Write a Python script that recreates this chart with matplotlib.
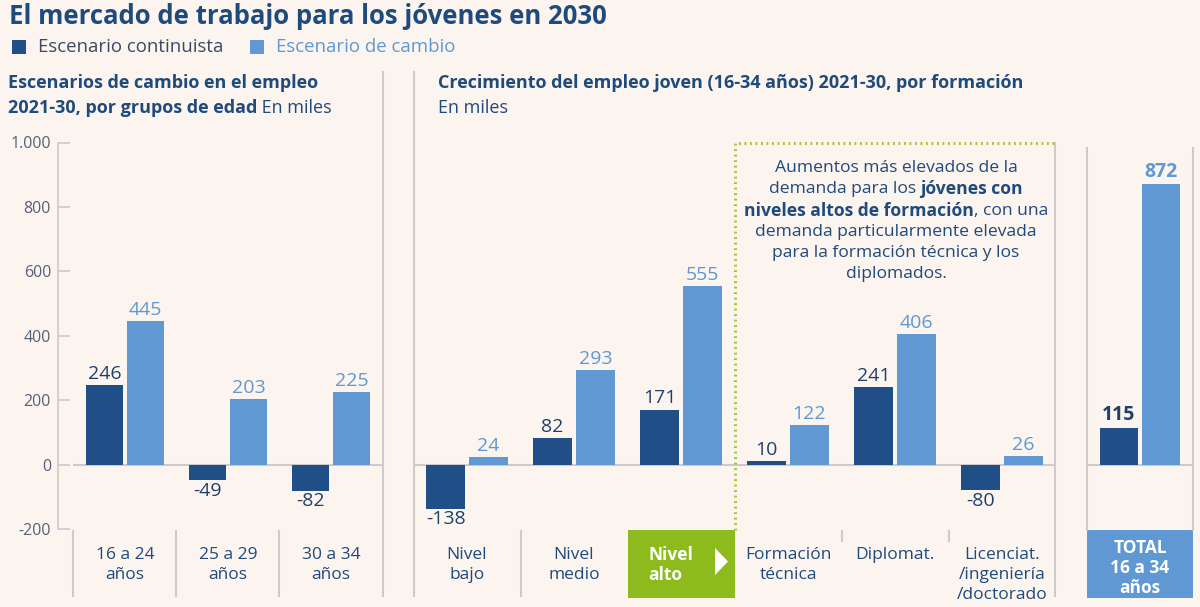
import numpy as np
import matplotlib.pyplot as plt
from matplotlib.lines import Line2D
from matplotlib.patches import Rectangle, Polygon
from matplotlib.transforms import blended_transform_factory

plt.rcParams['font.family'] = ['Open Sans', 'DejaVu Sans']

# --- data (miles de empleos) ---
age_groups = ['16 a 24\naños', '25 a 29\naños', '30 a 34\naños']
age_cont = [246, -49, -82]
age_cambio = [445, 203, 225]

edu_groups = ['Nivel\nbajo', 'Nivel\nmedio', 'Nivel\nalto', 'Formación\ntécnica',
              'Diplomat.', 'Licenciat.\n/ingeniería\n/doctorado']
edu_cont = [-138, 82, 171, 10, 241, -80]
edu_cambio = [24, 293, 555, 122, 406, 26]

total_label = 'TOTAL\n16 a 34\naños'
total_cont = [115]
total_cambio = [872]

y_ticks = [-200, 0, 200, 400, 600, 800, 1000]

# --- style ---
W, H = 1200, 607
BG = '#fcf5ef'
DARK = '#1f4f86'
LIGHT = '#5f98d3'
NAVY = '#1f4a7c'
LABEL_DARK = '#213f69'
GRID = '#cfc9c9'
GREEN = '#8dbb1e'
DOTS = '#a6c43a'


def fx(x):
    return x / W


def fy(y):
    return 1 - y / H


fig = plt.figure(figsize=(W / 100, H / 100), dpi=100, facecolor=BG)
renderer = fig.canvas.get_renderer()


def axes_at(x0, x1):
    ax = fig.add_axes([fx(x0), fy(529), fx(x1) - fx(x0), fy(142.5) - fy(529)])
    ax.set_facecolor('none')
    ax.set_ylim(-200, 1000)
    for s in ax.spines.values():
        s.set_visible(False)
    ax.set_xticks([])
    ax.set_yticks([])
    ax.axhline(0, color=GRID, lw=1.5, zorder=0)
    return ax


def draw_bars(ax, cont, cambio, bold=False):
    x = np.arange(len(cont))
    b1 = ax.bar(x - 0.2, cont, 0.36, color=DARK, zorder=2)
    b2 = ax.bar(x + 0.2, cambio, 0.36, color=LIGHT, zorder=2)
    weight = 'bold' if bold else 'normal'
    for bars, vals, col in ((b1, cont, LABEL_DARK), (b2, cambio, LIGHT)):
        for r, v in zip(bars, vals):
            xc = r.get_x() + r.get_width() / 2
            if v >= 0:
                ax.annotate(str(v), (xc, v), xytext=(0, 1.5), textcoords='offset points',
                            ha='center', va='bottom', fontsize=14, color=col, weight=weight)
            else:
                ax.annotate(str(v), (xc, v), xytext=(0, -1), textcoords='offset points',
                            ha='center', va='top', fontsize=14, color=col, weight=weight)


def cat_labels(ax, labels, color=NAVY, weight='normal', y0=555, dy=20, xs=None):
    tr = blended_transform_factory(ax.transData, fig.transFigure)
    xs = range(len(labels)) if xs is None else xs
    for i, lab in zip(xs, labels):
        for j, line in enumerate(lab.split('\n')):
            ax.text(i, fy(y0 + j * dy), line, transform=tr, ha='center', va='center',
                    fontsize=12.5, color=color, weight=weight)


def vline(x, y0, y1, **kw):
    kw.setdefault('color', GRID)
    kw.setdefault('lw', 1.5)
    fig.add_artist(Line2D([fx(x), fx(x)], [fy(y0), fy(y1)], **kw))


def rich_line(parts, x, y, ha='left', size=13, color=NAVY):
    # parts: list of (text, weight); drawn side by side on one baseline
    texts = [fig.text(0, fy(y), t, fontsize=size, color=color, weight=w, va='center')
             for t, w in parts]
    widths = [t.get_window_extent(renderer).width for t in texts]
    total = sum(widths)
    start = x - total / 2 if ha == 'center' else x
    for t, wd in zip(texts, widths):
        t.set_x(fx(start))
        start += wd


# --- panels ---
ax1 = axes_at(73, 383)
ax1.set_xlim(-0.505, 2.505)
draw_bars(ax1, age_cont, age_cambio)
ax1.spines['left'].set_visible(True)
ax1.spines['left'].set_position(('outward', 10.8))
ax1.spines['left'].set_bounds(-200, 1000)
ax1.spines['left'].set_color(GRID)
ax1.spines['left'].set_linewidth(1.2)
ax1.set_yticks(y_ticks)
ax1.set_yticklabels([f'{v:,}'.replace(',', '.') for v in y_ticks])
ax1.tick_params(axis='y', direction='in', length=8.6, width=1.2, color=GRID,
                labelcolor='#56617a', labelsize=11.5, pad=5)
cat_labels(ax1, age_groups)

ax2 = axes_at(413, 1055)
ax2.set_xlim(-0.505, 5.495)
draw_bars(ax2, edu_cont, edu_cambio)
cat_labels(ax2, [g for i, g in enumerate(edu_groups) if i != 2],
           xs=[i for i in range(len(edu_groups)) if i != 2])

ax3 = axes_at(1087, 1193)
ax3.set_xlim(-0.5, 0.5)
draw_bars(ax3, total_cont, total_cambio, bold=True)

# --- frames and separators ---
vline(383, 72, 596)
vline(414, 72, 596)
vline(1055, 143, 596)
vline(1087, 148, 530)
vline(1193, 148, 530)
for x in (73, 176, 279, 521):
    vline(x, 531, 596)
for x in (842, 949):
    vline(x, 531, 541)

# green "Nivel alto" tab + dotted highlight
fig.add_artist(Rectangle((fx(628), fy(598)), fx(735) - fx(628), fy(530) - fy(598),
                         transform=fig.transFigure, color=GREEN, lw=0))
for j, line in enumerate(edu_groups[2].split('\n')):
    fig.text(fx(648), fy(555 + j * 20), line, ha='left', va='center', fontsize=12.5,
             color='white', weight='bold')
fig.add_artist(Polygon([(fx(715), fy(548)), (fx(715), fy(575)), (fx(728), fy(561.5))],
                       closed=True, transform=fig.transFigure, color='white', lw=0))
fig.add_artist(Line2D([fx(735), fx(735), fx(1055)], [fy(530), fy(143), fy(143)],
                      color=DOTS, lw=2.2, linestyle=(0, (0.6, 1.2))))

# total tab
fig.add_artist(Rectangle((fx(1087), fy(598)), fx(1193) - fx(1087), fy(530) - fy(598),
                         transform=fig.transFigure, color=LIGHT, lw=0))
for j, line in enumerate(total_label.split('\n')):
    fig.text(fx(1140), fy(548 + j * 20), line, ha='center', va='center', fontsize=12.5,
             color='white', weight='bold')

# --- titles ---
fig.text(fx(9), fy(17), 'El mercado de trabajo para los jóvenes en 2030', fontsize=18.5,
         weight='bold', color=NAVY, va='center')

fig.add_artist(Rectangle((fx(12), fy(54)), fx(14), fy(40) - fy(54), transform=fig.transFigure,
                         color=DARK, lw=0))
fig.text(fx(38), fy(47), 'Escenario continuista', fontsize=13.4, color='#3a4a62', va='center')
fig.add_artist(Rectangle((fx(250), fy(54)), fx(14), fy(40) - fy(54), transform=fig.transFigure,
                         color=LIGHT, lw=0))
fig.text(fx(276), fy(47), 'Escenario de cambio', fontsize=13.4, color=LIGHT, va='center')

rich_line([('Escenarios de cambio en el empleo', 'bold')], 8, 83)
rich_line([('2021-30, por grupos de edad', 'bold'), (' En miles', 'normal')], 8, 108)
rich_line([('Crecimiento del empleo joven (16-34 años) 2021-30, por formación', 'bold')], 438, 83)
rich_line([('En miles', 'normal')], 438, 108)

# annotation
note = [
    [('Aumentos más elevados de la', 'normal')],
    [('demanda para los ', 'normal'), ('jóvenes con', 'bold')],
    [('niveles altos de formación', 'bold'), (', con una', 'normal')],
    [('demanda particularmente elevada', 'normal')],
    [('para la formación técnica y los', 'normal')],
    [('diplomados.', 'normal')],
]
for i, parts in enumerate(note):
    rich_line(parts, 896, 168 + i * 21.3, ha='center', size=12.6)

fig.savefig('out.png', dpi=100, facecolor=BG)
